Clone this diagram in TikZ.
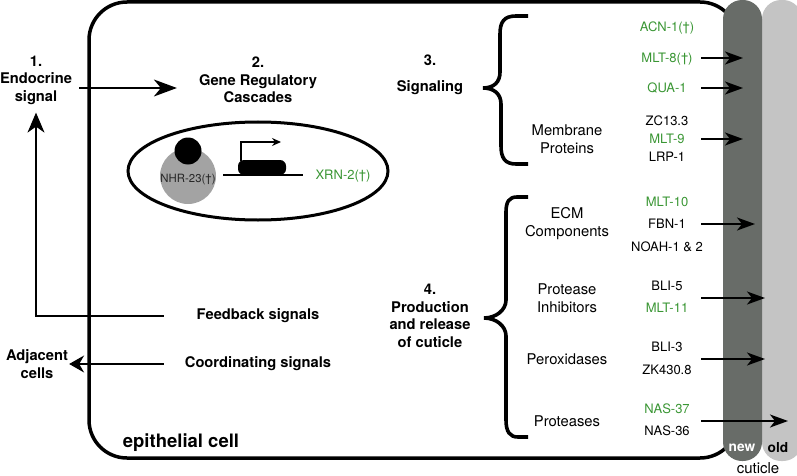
\documentclass[tikz,border=0pt]{standalone}
\usepackage{fontspec}
\setmainfont{TeX Gyre Heros}
\usetikzlibrary{arrows.meta,positioning}

\definecolor{genegreen}{RGB}{58,150,52}
\definecolor{newcut}{RGB}{104,108,104}
\definecolor{oldcut}{RGB}{196,196,196}
\definecolor{tfgray}{RGB}{163,163,163}

\tikzset{
  heading/.style={font=\fontsize{14.7}{17.6}\selectfont\bfseries, align=center, inner sep=1pt},
  group/.style={font=\fontsize{14.8}{18}\selectfont, align=center, inner sep=1pt},
  gene/.style={font=\fontsize{13}{15}\selectfont, inner sep=1pt, text height=9.4pt, text depth=0pt},
  greengene/.style={gene, text=genegreen},
  signal/.style={->, line width=1.6pt},
  bigsignal/.style={->, line width=1.6pt, >={Stealth[length=23pt,width=17pt,inset=7pt]}},
  brace/.style={line width=3.6pt}
}

\begin{document}
\begin{tikzpicture}[x=1pt,y=-1pt,>={Stealth[length=18pt,width=13pt,inset=5pt]}]
  \useasboundingbox (0,0) rectangle (797,476);

  % cell and cuticle layers
  \draw[line width=3.5pt, rounded corners=38pt] (89,2) rectangle (738,458);
  \fill[oldcut, rounded corners=19pt] (762,0) rectangle (802,461);
  \fill[newcut, rounded corners=19pt] (723,0) rectangle (762,461);
  \node[font=\fontsize{13.7}{15}\selectfont\bfseries, text=white] (new) at (742,448) {new};
  \node[font=\fontsize{13.7}{15}\selectfont\bfseries] (old) at (778,448) {old};
  \node[font=\fontsize{15}{17}\selectfont, inner sep=0pt] (cuticle) at (758,468) {cuticle};
  \node[heading, font=\fontsize{18.5}{21}\selectfont\bfseries] (cell) at (181,443) {epithelial cell};

  % nucleus
  \draw[line width=3pt] (258,171) ellipse [x radius=130pt, y radius=49pt];
  \fill[tfgray] (188,176) circle (28pt);
  \fill (188,151) circle (13.5pt);
  \node[font=\fontsize{11.4}{13}\selectfont, text=black!85, inner sep=0pt] (nhr) at (188,180) {NHR-23(†)};
  \draw[line width=2.5pt] (223,175) -- (303,175);
  \fill[rounded corners=6pt] (238,160) rectangle (286,175);
  \draw[->, line width=1.5pt, >={Stealth[length=9pt,width=8pt,inset=3pt]}] (241,161) -- (241,142) -- (281,142);
  \node[greengene] (xrn2) at (343,175) {XRN-2(†)};

  % headings
  \node[heading] (endo) at (36,80) {1.\\Endocrine\\signal};
  \node[heading] (grc) at (258,80) {2.\\Gene Regulatory\\Cascades};
  \node[heading] (num3) at (430,60) {3.};
  \node[heading] (signaling) at (430,88) {Signaling};
  \node[heading] (prod) at (430,316) {4.\\Production\\and release\\of cuticle};
  \node[heading] (feedback) at (258,316) {Feedback signals};
  \node[heading] (coord) at (258,364) {Coordinating signals};
  \node[heading] (adj) at (37,364) {Adjacent\\cells};

  % signals
  \draw[bigsignal, shorten <=6pt, shorten >=21pt] ([yshift=-8pt]endo.east) -- ([yshift=-8pt]grc.west);
  \draw[bigsignal, >={Stealth[length=20pt,width=17pt,inset=6pt]}, shorten >=7pt] ([xshift=-32pt]feedback.west) -| (endo.south);
  \draw[signal, >={Stealth[length=15pt,width=17pt,inset=5pt]}] ([xshift=-20pt]coord.west) -- (adj.east);

  % braces
  \draw[brace] (528,16) -- (516,16) .. controls (504,16) and (500,22) .. (500,34)
    -- (500,72) .. controls (500,82) and (494,88) .. (483,88)
    .. controls (494,88) and (501,94) .. (501,104) -- (501,146)
    .. controls (501,158) and (505,164) .. (516,164) -- (528,164);
  \draw[brace] (528,197) -- (517,197) .. controls (509,197) and (506,202) .. (506,212)
    -- (506,300) .. controls (506,310) and (496,318) .. (484,318)
    .. controls (496,318) and (506,326) .. (506,336) -- (506,420)
    .. controls (506,432) and (510,437) .. (518,437) -- (528,437);

  % protein groups
  \node[group] (membrane) at (567,139) {Membrane\\Proteins};
  \node[group] (ecm) at (567,224) {ECM\\Components};
  \node[group] (inhib) at (567,298) {Protease\\Inhibitors};
  \node[group] (perox) at (567,359) {Peroxidases};
  \node[group] (proteases) at (567,421) {Proteases};

  % genes
  \node[greengene] (acn1) at (667,27) {ACN-1(†)};
  \node[greengene] (mlt8) at (667,58) {MLT-8(†)};
  \node[greengene] (qua1) at (667,88) {QUA-1};
  \node[gene] (zc133) at (667,121) {ZC13.3};
  \node[greengene] (mlt9) at (667,139) {MLT-9};
  \node[gene] (lrp1) at (667,157) {LRP-1};
  \node[greengene] (mlt10) at (667,202) {MLT-10};
  \node[gene] (fbn1) at (667,224) {FBN-1};
  \node[gene] (noah) at (667,247) {NOAH-1 \& 2};
  \node[gene] (bli5) at (667,286) {BLI-5};
  \node[greengene] (mlt11) at (667,308) {MLT-11};
  \node[gene] (bli3) at (667,347) {BLI-3};
  \node[gene] (zk430) at (667,370) {ZK430.8};
  \node[greengene] (nas37) at (667,409) {NAS-37};
  \node[gene] (nas36) at (667,431) {NAS-36};

  % secretion to the cuticle
  \coordinate (tail) at (701,0);
  \coordinate (newin) at (743,0);
  \coordinate (newout) at (755,0);
  \coordinate (oldedge) at (765,0);
  \coordinate (oldin) at (788,0);
  \foreach \from/\to in {mlt8/newin, qua1/newin, membrane/newin, ecm/newout,
                         inhib/oldedge, perox/oldedge, proteases/oldin}
    \draw[signal] (tail |- \from) -- (\to |- \from);

\end{tikzpicture}
\end{document}
